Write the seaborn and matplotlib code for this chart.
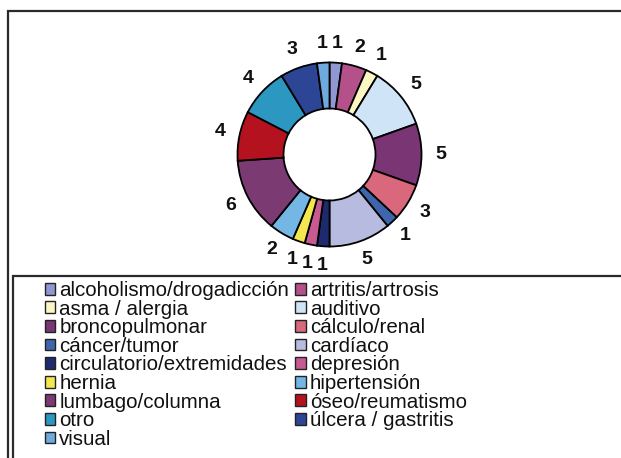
import numpy as np
import matplotlib
matplotlib.use("Agg")
import matplotlib.pyplot as plt
from matplotlib.patches import Rectangle
import seaborn as sns

categories = ["alcoholismo/drogadicción", "artritis/artrosis", "asma / alergia", "auditivo",
              "broncopulmonar", "cálculo/renal", "cáncer/tumor", "cardíaco",
              "circulatorio/extremidades", "depresión", "hernia", "hipertensión",
              "lumbago/columna", "óseo/reumatismo", "otro", "úlcera / gastritis", "visual"]
values = [1, 2, 1, 5, 5, 3, 1, 5, 1, 1, 1, 2, 6, 4, 4, 3, 1]
hex_colors = ["#8f98d2", "#b4508a", "#fbf6c4", "#cfe4f6", "#7a3575", "#d9687c",
              "#3f66ad", "#b7bbdf", "#1f2a6e", "#c85a92", "#f3e64f", "#74b6e4",
              "#7b3a72", "#b5121f", "#2c97c0", "#2c4595", "#6eaade"]

sns.set_theme(style="white")
plt.rcParams['font.family'] = ['Liberation Sans', 'DejaVu Sans']

W, H = 621, 458
fig = plt.figure(figsize=(W / 100, H / 100), dpi=100)
fig.patch.set_facecolor("white")

# donut axes: centre at (329.5, 154.5) px, outer radius 92 px
R = 92.0
span = 1.4
size = 2 * span * R
cx, cy = 329.5, 154.5
ax = fig.add_axes([(cx - size / 2) / W, (H - cy - size / 2) / H, size / W, size / H])
palette = sns.color_palette(hex_colors)
wedges, _ = ax.pie(values, colors=palette, startangle=90, counterclock=False,
                   wedgeprops=dict(width=0.5, edgecolor="black", linewidth=1.3))
ax.set_xlim(-span, span)
ax.set_ylim(-span, span)
ax.set_aspect("equal")
ax.axis("off")

for w, v in zip(wedges, values):
    ang = np.deg2rad((w.theta1 + w.theta2) / 2)
    r = 1.21
    ax.text(r * np.cos(ang), r * np.sin(ang), str(v), ha="center", va="center",
            fontsize=14, fontweight="bold", color="#111111")

# frames
lw = 1.6
fig.add_artist(Rectangle((8 / W, -0.2), 1.5, 1 - 11 / H + 0.2, transform=fig.transFigure,
                         fill=False, edgecolor="#2a2a2a", linewidth=lw))
fig.add_artist(Rectangle((13 / W, -0.2), 1.5, 1 - 276 / H + 0.2, transform=fig.transFigure,
                         fill=False, edgecolor="#2a2a2a", linewidth=lw))

# legend row-wise in 2 columns
order = list(range(0, len(categories), 2)) + list(range(1, len(categories), 2))
handles = [Rectangle((0, 0), 1, 1, facecolor=hex_colors[i], edgecolor="#222222", linewidth=1.0)
           for i in order]
labels = [categories[i] for i in order]
leg = fig.legend(handles, labels, ncol=2, loc="upper left",
                 bbox_to_anchor=(45 / W, 1 - 281 / H), bbox_transform=fig.transFigure,
                 frameon=False, fontsize=14.8, handlelength=0.5, handleheight=0.5,
                 handletextpad=0.2, labelspacing=-0.02, columnspacing=0.3,
                 borderpad=0, borderaxespad=0)
for t in leg.get_texts():
    t.set_color("#111111")

fig.savefig("out.png", dpi=100, facecolor="white")
